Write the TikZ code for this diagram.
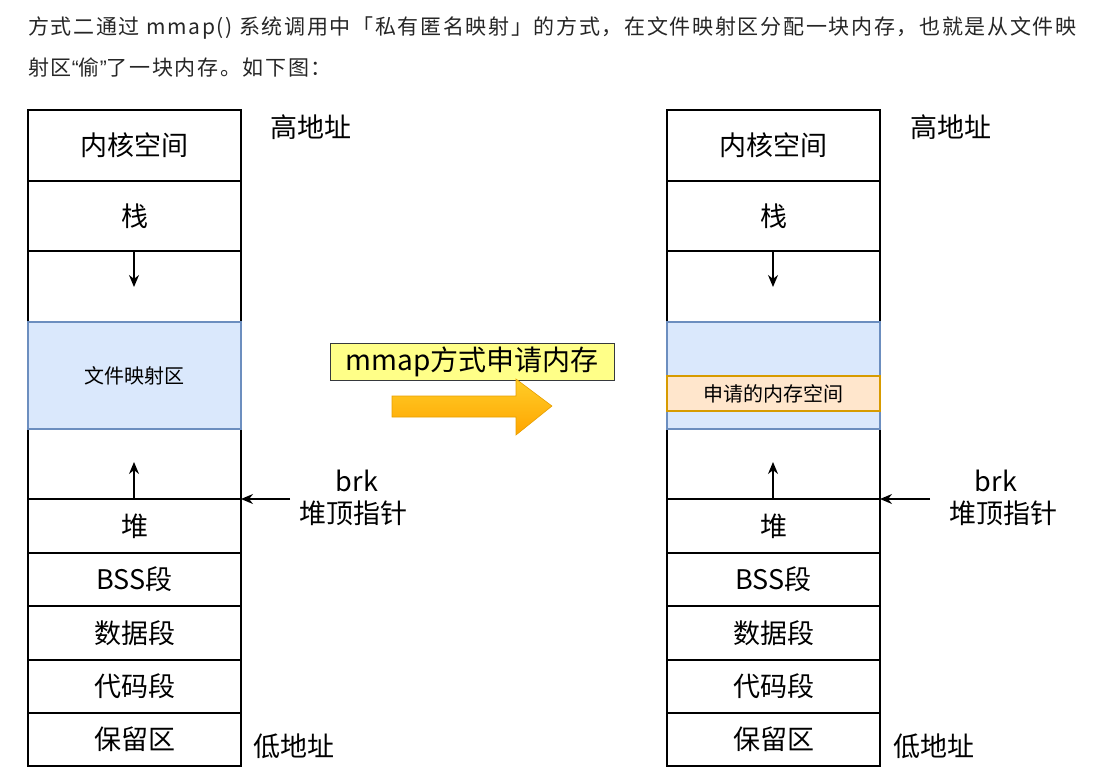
\documentclass[tikz,border=0pt]{standalone}
\usepackage{fontspec}
\setmainfont{Noto Sans CJK SC}
\newfontfamily\parafont[LetterSpace=8]{Noto Sans CJK SC}
\newfontfamily\quotefont{Liberation Sans}
\usetikzlibrary{arrows.meta}
\definecolor{paratext}{HTML}{262626}
\definecolor{bluefill}{HTML}{DAE8FC}
\definecolor{blueline}{HTML}{6C8EBF}
\definecolor{orangefill}{HTML}{FFE6CC}
\definecolor{orangeline}{HTML}{D79B00}
\definecolor{yellowfill}{HTML}{FFFF88}
\definecolor{yellowline}{HTML}{36393D}
\definecolor{arrowtop}{HTML}{FFCD28}
\definecolor{arrowbot}{HTML}{FFA500}
\tikzset{
  cell/.style={draw=black, line width=1.3pt, fill=white, minimum width=213pt, inner sep=0pt, outer sep=0pt, font=\fontsize{27}{27}\selectfont},
  mapcell/.style={cell, draw=blueline, fill=bluefill, font=\fontsize{20}{20}\selectfont},
  askcell/.style={cell, draw=orangeline, fill=orangefill, line width=1.3pt, font=\fontsize{20}{20}\selectfont},
  lbl/.style={inner sep=0pt, font=\fontsize{27}{27}\selectfont},
  arr/.style={line width=1.3pt, -{Stealth[length=12pt,width=10pt]}},
  para/.style={inner sep=0pt, anchor=west, text=paratext, font=\parafont\fontsize{21}{21}\selectfont}
}
\begin{document}
\begin{tikzpicture}[x=1pt,y=-1pt]
\useasboundingbox (0,0) rectangle (1099,782);
% paragraph
\node[para] (p1) at (28,28) {方式二通过 mmap() 系统调用中「私有匿名映射」的方式，在文件映射区分配一块内存，也就是从文件映};
\node[para] (p2) at (28,67) {射区{\quotefont“}偷{\quotefont”}了一块内存。如下图：};
% columns
\foreach \p/\x in {L/134.5,R/773.5}{
  \node[cell, minimum height=71pt] (\p kern) at (\x,145.5) {内核空间};
  \node[cell, minimum height=70pt] (\p stack) at (\x,216) {栈};
  \node[cell, minimum height=71pt] (\p gapa) at (\x,286.5) {};
  \node[cell, minimum height=70pt] (\p gapb) at (\x,464) {};
  \node[cell, minimum height=54pt] (\p heap) at (\x,526) {堆};
  \node[cell, minimum height=53pt] (\p bss) at (\x,579.5) {BSS段};
  \node[cell, minimum height=54pt] (\p data) at (\x,633) {数据段};
  \node[cell, minimum height=53pt] (\p code) at (\x,686.5) {代码段};
  \node[cell, minimum height=53pt] (\p resv) at (\x,739.5) {保留区};
  \coordinate (\p stacktip) at (\x-0.5,287);
  \coordinate (\p heaptip) at (\x-0.5,462);
  \draw[arr] (\p gapa.north -| \p stacktip) -- (\p stacktip);
  \draw[arr] (\p gapb.south -| \p heaptip) -- (\p heaptip);
}
\node[mapcell, minimum height=107pt] (Lmap) at (134.5,375.5) {文件映射区};
\node[mapcell, minimum height=107pt] (Rmap) at (773.5,375.5) {};
\node[askcell, minimum height=35pt] (Rask) at (773.5,393.5) {申请的内存空间};
% address labels
\node[lbl, anchor=west] (Lhigh) at (270,127) {高地址};
\node[lbl, anchor=west] (Llow) at (253,746) {低地址};
\node[lbl, anchor=west] (Rhigh) at (910,127) {高地址};
\node[lbl, anchor=west] (Rlow) at (893,746) {低地址};
% brk pointers
\node[lbl] (Lbrk) at (357,481) {brk};
\node[lbl] (Lbrkt) at (353,513) {堆顶指针};
\node[lbl] (Rbrk) at (996,481) {brk};
\node[lbl] (Rbrkt) at (1003,513) {堆顶指针};
\coordinate (Lbrkfrom) at (290,499);
\coordinate (Rbrkfrom) at (930,499);
\draw[arr] (Lbrkfrom) -- (Lheap.north east);
\draw[arr] (Rbrkfrom) -- (Rheap.north east);
% middle
\node[draw=yellowline, fill=yellowfill, line width=1pt, minimum width=284pt, minimum height=37pt, inner sep=0pt, font=\fontsize{28}{28}\selectfont] (mlabel) at (472,361.5) {mmap方式申请内存};
\shade[top color=arrowtop, bottom color=arrowbot, draw=orangeline!60!arrowbot, line width=0.6pt]
  (392,396) -- (516,396) -- (516,379) -- (552,406) -- (516,435) -- (516,417) -- (392,417) -- cycle;
\end{tikzpicture}
\end{document}
